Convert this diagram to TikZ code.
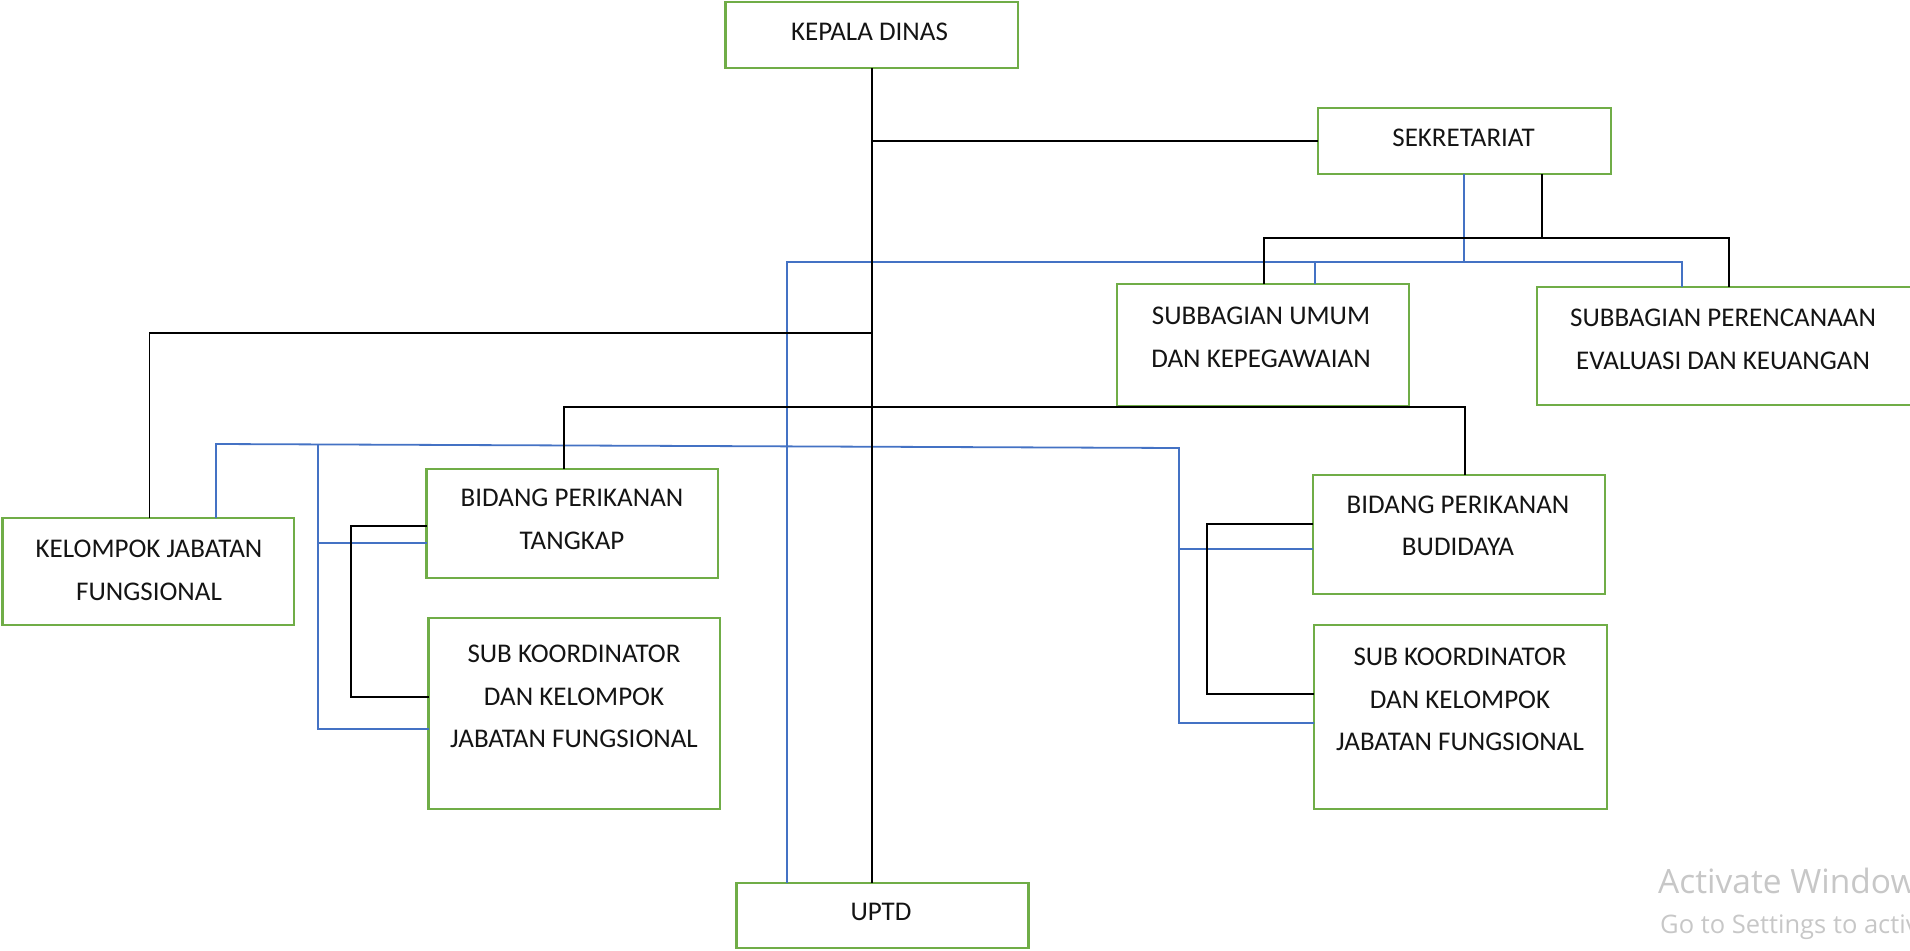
\documentclass[tikz,border=0pt]{standalone}
\usepackage{fontspec}
\setmainfont{Carlito}
\newfontfamily\wmfont{Open Sans}
\definecolor{boxgreen}{RGB}{112,173,71}
\definecolor{lineblue}{RGB}{68,114,196}
\begin{document}
\begin{tikzpicture}[x=1pt,y=-1pt,
  box/.style={draw=boxgreen, line width=2.4pt, inner sep=0pt, outer sep=0pt},
  lbl/.style={inner sep=0pt, align=center, font=\fontsize{27}{42.5}\selectfont, text=black!92},
  blk/.style={draw=black, line width=1.8pt},
  blu/.style={draw=lineblue, line width=1.8pt},
  wm/.style={text=black!22, inner sep=0pt, anchor=base west}]
\useasboundingbox (0,0) rectangle (1910,950);

% boxes
\node[box, minimum width=292.5pt, minimum height=66pt]  (kd)   at (871.75,35) {};
\node[box, minimum width=293pt,   minimum height=66pt]  (sek)  at (1464.5,141) {};
\node[box, minimum width=292pt,   minimum height=122pt] (sbu)  at (1263,345) {};
\node[box, minimum width=393pt,   minimum height=118pt] (sbp)  at (1733.5,346) {};
\node[box, minimum width=291.5pt, minimum height=107pt] (kjf)  at (148.25,571.5) {};
\node[box, minimum width=291.5pt, minimum height=109pt] (bpt)  at (572.25,523.5) {};
\node[box, minimum width=291.5pt, minimum height=191pt] (skl)  at (574.25,713.5) {};
\node[box, minimum width=292pt,   minimum height=119pt] (bpb)  at (1459,534.5) {};
\node[box, minimum width=293pt,   minimum height=184pt] (skr)  at (1460.5,717) {};
\node[box, minimum width=292pt,   minimum height=65pt]  (uptd) at (882.6,915.5) {};

% labels
\node[lbl] (tkd)   at (869.5,31.5)  {KEPALA DINAS};
\node[lbl] (tsek)  at (1463.5,137.5) {SEKRETARIAT};
\node[lbl] (tsbu)  at (1261,337.5)  {SUBBAGIAN UMUM\\DAN KEPEGAWAIAN};
\node[lbl] (tsbp)  at (1723,339.5)  {SUBBAGIAN PERENCANAAN\\EVALUASI DAN KEUANGAN};
\node[lbl] (tkjf)  at (149,570.5)   {KELOMPOK JABATAN\\FUNGSIONAL};
\node[lbl] (tbpt)  at (572,519.5)   {BIDANG PERIKANAN\\TANGKAP};
\node[lbl] (tskl)  at (574,696.7)   {SUB KOORDINATOR\\DAN KELOMPOK\\JABATAN FUNGSIONAL};
\node[lbl] (tbpb)  at (1458,526)    {BIDANG PERIKANAN\\BUDIDAYA};
\node[lbl] (tskr)  at (1460,699.7)  {SUB KOORDINATOR\\DAN KELOMPOK\\JABATAN FUNGSIONAL};
\node[lbl] (tuptd) at (881,912)     {UPTD};

% junction coordinates
\coordinate (b1) at (1542,238);
\coordinate (bL) at (1263.6,238);
\coordinate (bR) at (1729,238);
\coordinate (k1) at (149.5,333);
\coordinate (d1) at (564,407);
\coordinate (d2) at (1465,407);
\coordinate (l1) at (351,526);
\coordinate (l2) at (351,697);
\coordinate (r1) at (1207,524);
\coordinate (r2) at (1207,694);
\coordinate (u0) at (786.7,262);
\coordinate (u1) at (1464,262);
\coordinate (u2) at (1315,262);
\coordinate (u3) at (1682,262);
\coordinate (m0) at (216,444);
\coordinate (m1) at (1179,448);
\coordinate (m2) at (1179,549);
\coordinate (m3) at (1179,723);
\coordinate (n0) at (318,444.4);
\coordinate (n1) at (318,543);
\coordinate (n2) at (318,729);

% blue connectors
\draw[blu] (sek.south -| u1) -- (u1);
\draw[blu] (uptd.north -| u0) -- (u0) -- (u3) -- (sbp.north -| u3);
\draw[blu] (u2) -- (sbu.north -| u2);
\draw[blu] (kjf.north -| m0) -- (m0) -- (m1) -- (m3) -- (skr.west |- m3);
\draw[blu] (m2) -- (bpb.west |- m2);
\draw[blu] (n0) -- (n2) -- (skl.west |- n2);
\draw[blu] (n1) -- (bpt.west |- n1);

% black connectors
\draw[blk] (kd.south) -- (kd.south |- uptd.north);
\draw[blk] (kd.south |- sek.west) -- (sek.west);
\draw[blk] (sek.south -| b1) -- (b1);
\draw[blk] (sbu.north -| bL) -- (bL) -- (bR) -- (sbp.north -| bR);
\draw[blk] (kjf.north -| k1) -- (k1) -- (kd.south |- k1);
\draw[blk] (bpt.north -| d1) -- (d1) -- (d2) -- (bpb.north -| d2);
\draw[blk] (bpt.west |- l1) -- (l1) -- (l2) -- (skl.west |- l2);
\draw[blk] (bpb.west |- r1) -- (r1) -- (r2) -- (skr.west |- r2);

% watermark (cut off at the right edge, as in the reference)
\node[wm, font=\wmfont\fontsize{33.5}{40}\selectfont] (wm1) at (1658,893) {Activate Windows};
\node[wm, font=\wmfont\fontsize{25.5}{30}\selectfont] (wm2) at (1660,933) {Go to Settings to activate Windows.};
\end{tikzpicture}
\end{document}
